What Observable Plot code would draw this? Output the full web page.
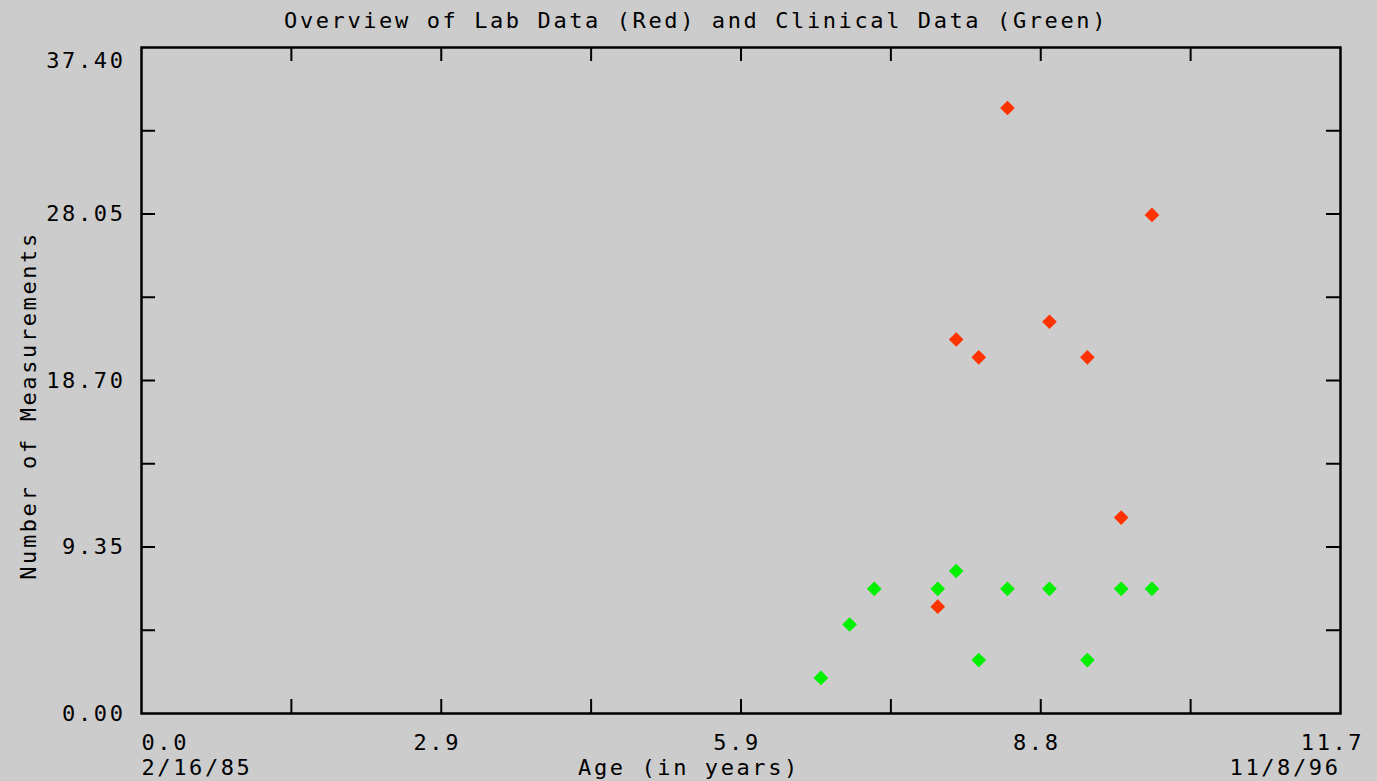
<!DOCTYPE html>
<html>
<head>
<meta charset="utf-8">
<script src="https://cdn.jsdelivr.net/npm/d3@7"></script>
<script src="https://cdn.jsdelivr.net/npm/@observablehq/plot@0.6"></script>
<style>
  html, body { margin: 0; padding: 0; background: #cccccc; }
  #chart { width: 1377px; height: 781px; overflow: hidden; }
</style>
</head>
<body>
<div id="chart"></div>
<script>
// ---- Data ----
const titleText = "Overview of Lab Data (Red) and Clinical Data (Green)";
const xAxisTitle = "Age (in years)";
const yAxisTitle = "Number of Measurements";
const startDate = "2/16/85";
const endDate = "11/8/96";

const labAge   = [8.45, 9.86, 7.95, 8.17, 8.86, 9.23, 9.56, 7.77];
const labCount = [34, 28, 21, 20, 22, 20, 11, 6];

const clinicalAge   = [6.63, 6.91, 7.15, 7.77, 7.95, 8.17, 8.45, 8.86, 9.23, 9.56, 9.86];
const clinicalCount = [2, 5, 7, 7, 8, 3, 7, 7, 3, 7, 7];

const xMax = 11.7;
const yMax = 37.4;
const xTicks = [0, 1.4625, 2.925, 4.3875, 5.85, 7.3125, 8.775, 10.2375, 11.7];
const xLabelValues = [2.925, 5.85, 8.775];
const xLabelText = ["2.9", "5.9", "8.8"];
const xFirstLabel = "0.0";
const xLastLabel = "11.7";
const yTicks = [0, 4.675, 9.35, 14.025, 18.7, 23.375, 28.05, 32.725, 37.4];
const yLabelValues = [0, 9.35, 18.7, 28.05];
const yLabelText = ["0.00", "9.35", "18.70", "28.05"];
const yTopLabel = "37.40";

// ---- Build ----
const lab = labAge.map((a, i) => ({age: a, count: labCount[i]}));
const clinical = clinicalAge.map((a, i) => ({age: a, count: clinicalCount[i]}));

const W = 1377, H = 781;
const mL = 141, mR = 37, mT = 47, mB = 68;
const innerW = W - mL - mR, innerH = H - mT - mB;
const tickLen = 14;

const font = {fontFamily: "DejaVu Sans Mono", fontSize: 22, fill: "black"};

const chart = Plot.plot({
  width: W,
  height: H,
  marginLeft: mL,
  marginRight: mR,
  marginTop: mT,
  marginBottom: mB,
  style: {background: "#cccccc", fontFamily: "DejaVu Sans Mono", fontSize: "22px", letterSpacing: "2.6px", overflow: "visible"},
  x: {domain: [0, xMax], axis: null},
  y: {domain: [0, yMax], axis: null},
  marks: [
    // ticks pointing inward on all four sides
    Plot.tickX(xTicks.slice(1, -1), {x: d => d, insetTop: innerH - tickLen, stroke: "black", strokeWidth: 2}),
    Plot.tickX(xTicks.slice(1, -1), {x: d => d, insetBottom: innerH - tickLen, stroke: "black", strokeWidth: 2}),
    Plot.tickY(yTicks.slice(1, -1), {y: d => d, insetRight: innerW - tickLen, stroke: "black", strokeWidth: 2}),
    Plot.tickY(yTicks.slice(1, -1), {y: d => d, insetLeft: innerW - tickLen, stroke: "black", strokeWidth: 2}),
    Plot.frame({stroke: "black", strokeWidth: 2.5}),
    // y labels
    Plot.text(yLabelValues, {y: d => d, text: (d, i) => yLabelText[i], frameAnchor: "left", dx: -16, textAnchor: "end", ...font}),
    Plot.text([yTopLabel], {y: yMax, text: d => d, frameAnchor: "left", dx: -16, dy: 13, textAnchor: "end", ...font}),
    // x labels
    Plot.text(xLabelValues, {x: d => d, text: (d, i) => xLabelText[i], frameAnchor: "bottom", dy: 36, dx: -4, textAnchor: "middle", ...font}),
    Plot.text([xFirstLabel], {x: 0, text: d => d, frameAnchor: "bottom", dy: 36, textAnchor: "start", ...font}),
    Plot.text([xLastLabel], {x: xMax, text: d => d, frameAnchor: "bottom", dy: 36, dx: -8, textAnchor: "middle", ...font}),
    Plot.text([startDate], {x: 0, text: d => d, frameAnchor: "bottom", dy: 61, textAnchor: "start", ...font}),
    Plot.text([endDate], {x: xMax, text: d => d, frameAnchor: "bottom", dy: 61, dx: 0, textAnchor: "end", ...font}),
    Plot.text([xAxisTitle], {frameAnchor: "bottom", dy: 61, dx: -52, textAnchor: "middle", ...font}),
    // y axis title
    Plot.text([yAxisTitle], {frameAnchor: "left", dx: -113, dy: 25, rotate: -90, textAnchor: "middle", ...font}),
    // title
    Plot.text([titleText], {frameAnchor: "top", dy: -35, dx: -45, textAnchor: "middle", ...font}),
    // data
    Plot.dot(clinical, {x: "age", y: "count", symbol: "diamond2", r: 6.6, fill: "#00f000", stroke: "none"}),
    Plot.dot(lab, {x: "age", y: "count", symbol: "diamond2", r: 6.6, fill: "#ff3300", stroke: "none"})
  ]
});

document.getElementById("chart").appendChild(chart);
</script>
</body>
</html>
